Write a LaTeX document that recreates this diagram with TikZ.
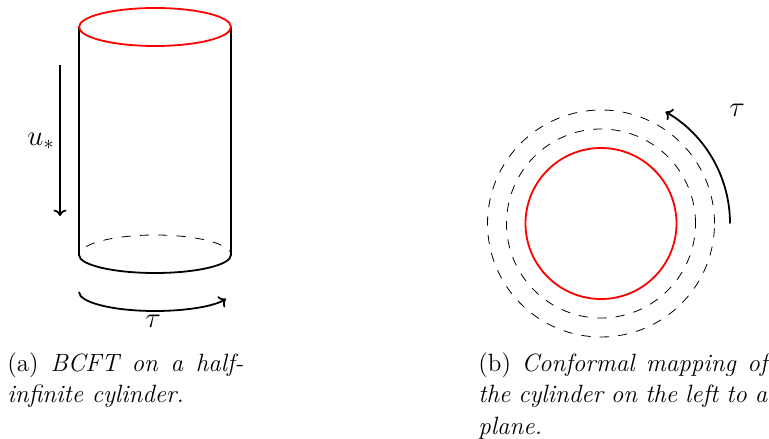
\documentclass[tikz,border=0pt]{standalone}
\usepackage{amsmath,amssymb}
\usepackage{xcolor}
\usetikzlibrary{positioning,calc,arrows.meta}
\tikzset{
  pared/.style={line width=0.9pt, draw=black},
  borde/.style={line width=0.9pt, draw=red},
  trazos/.style={line width=0.4pt, draw=black, dash pattern=on 4.6pt off 4.6pt},
  flecha/.style={-{To[width=6.5pt,length=3.2pt]}, line width=0.9pt, draw=black},
  etq/.style={inner sep=0pt, font=\fontsize{14}{16}\selectfont},
  pie/.style={inner sep=0pt, anchor=north west, align=justify, font=\fontsize{12.5}{15.75}\selectfont},
}
\begin{document}
\begin{tikzpicture}[x=0.5pt, y=0.5pt]
  \useasboundingbox (0,0) rectangle (769,438);
  % left: cylinder
  \coordinate (topc) at (155,411);
  \coordinate (topl) at (79,411);
  \coordinate (topr) at (231,411);
  \coordinate (botl) at (79,183);
  \coordinate (botr) at (231,183);
  \draw[pared] (topl) -- (botl) arc[start angle=180, end angle=360, x radius=76, y radius=18] -- (topr);
  \draw[trazos] ($(botl)+(76,0)+(155:76 and 20)$) arc[start angle=155, end angle=10, x radius=76, y radius=20];
  \draw[borde] (topc) ellipse[x radius=76, y radius=19];
  \coordinate (ua) at (60,373);
  \coordinate (ub) at (60,222);
  \draw[flecha] (ua) -- (ub);
  \node[etq] (ulab) at (41,297) {$u_*$};
  \coordinate (ta) at (79,146);
  \draw[flecha] (ta) arc[start angle=180, end angle=339, x radius=76, y radius=19];
  \node[etq] (tlab) at (153,117) {$\tau$};
  % right: plane
  \coordinate (cen) at (601,214.5);
  \draw[borde] (cen) circle[radius=75.5];
  \draw[trazos] (cen) circle[radius=94.5];
  \draw[trazos] (cen) circle[radius=113.5];
  \coordinate (ra) at (730,214.5);
  \draw[flecha] (ra) arc[start angle=0, end angle=60, radius=129];
  \node[etq] (rlab) at (737,328) {$\tau$};
  % captions
  \node[pie, text width=118pt] (capa) at (7,86) {(a) \textit{BCFT on a half-infinite cylinder.}};
  \node[pie, text width=144.5pt] (capb) at (478,86) {(b) \textit{Conformal mapping of the cylinder on the left to a plane.}};
\end{tikzpicture}
\end{document}
